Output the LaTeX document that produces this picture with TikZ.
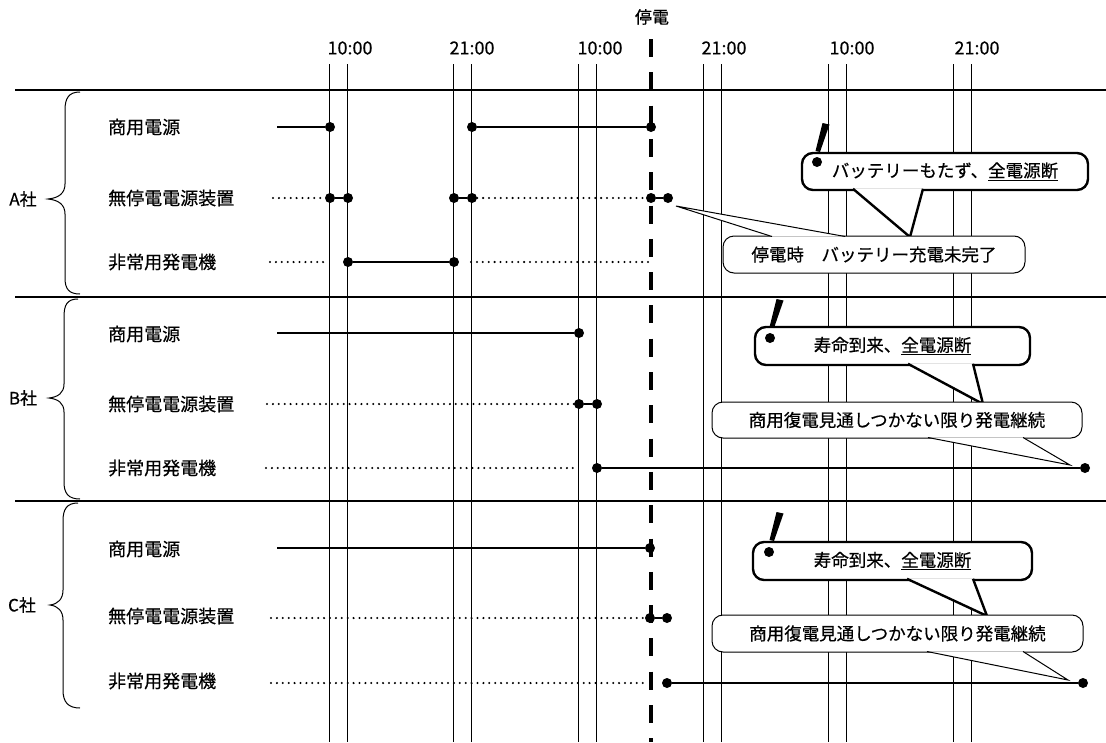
\documentclass[tikz,border=0pt]{standalone}
\usepackage{fontspec}
\setmainfont[FakeBold=0.5]{Noto Sans CJK JP}
\usetikzlibrary{calc}
\begin{document}
\begin{tikzpicture}[x=1pt,y=-1pt,
  gridline/.style={line width=0.9pt},
  sepline/.style={line width=1.1pt},
  cutline/.style={line width=4.2pt, dash pattern=on 18pt off 15.3pt},
  pwr/.style={line width=2.6pt},
  idle/.style={line width=2.3pt, line cap=round, dash pattern=on 0pt off 5.9pt},
  dot/.style={circle, fill=black, inner sep=0pt, minimum size=10pt},
  rowlbl/.style={font=\fontsize{18}{20}\selectfont, anchor=west, inner sep=0pt},
  comp/.style={font=\fontsize{17}{19}\selectfont, inner sep=0pt},
  tm/.style={font=\fontsize{18}{20}\selectfont, inner sep=0pt},
  brace/.style={line width=1pt},
  box/.style={draw, fill=white, rounded corners=11pt, line width=1pt, font=\fontsize{17.5}{20}\selectfont, inner sep=0pt},
  boxb/.style={box, line width=2.4pt},
  ptr/.style={draw, fill=white, line width=1pt, line join=miter},
  ptrb/.style={ptr, line width=2.4pt},
]
\useasboundingbox (0,0) rectangle (1106,742);
% grid lines
\foreach \k in {0,...,5} {
  \pgfmathsetmacro\xa{329+124.8*\k}
  \pgfmathsetmacro\xb{\xa+18}
  \draw[gridline] (\xa,64) -- (\xa,742);
  \draw[gridline] (\xb,64) -- (\xb,742);
}
% time labels
\node[tm] (t1) at (350,48) {10:00};
\node[tm] (t2) at (472,48) {21:00};
\node[tm] (t3) at (600,48) {10:00};
\node[tm] (t4) at (724,48) {21:00};
\node[tm] (t5) at (852,48) {10:00};
\node[tm] (t6) at (977,48) {21:00};
\node[tm, font=\fontsize{17}{19}\selectfont] (pf) at (652,17) {停電};
% separators
\coordinate (s1a) at (15,90);  \coordinate (s1b) at (1106,90);
\coordinate (s2a) at (15,297); \coordinate (s2b) at (1106,297);
\coordinate (s3a) at (15,501); \coordinate (s3b) at (1106,501);
\draw[sepline] (s1a) -- (s1b);
\draw[sepline] (s2a) -- (s2b);
\draw[sepline] (s3a) -- (s3b);
% outage line
\coordinate (cuttop) at (651,39); \coordinate (cutbot) at (651,742);
\draw[cutline] (cuttop) -- (cutbot);
% braces
\draw[brace] (80,92) .. controls (69,92) and (65,98) .. (65,110) -- (65,184)
  .. controls (65,193) and (59,198) .. (48,199) .. controls (59,200) and (65,205) .. (65,214)
  -- (65,278) .. controls (65,289) and (69,294) .. (80,294);
\draw[brace] (78,299) .. controls (67,299) and (64,305) .. (64,317) -- (64,384)
  .. controls (64,393) and (58,397) .. (49,398) .. controls (58,399) and (64,403) .. (64,412)
  -- (64,482) .. controls (64,493) and (68,499) .. (80,499);
\draw[brace] (78,503) .. controls (67,503) and (63,509) .. (63,521) -- (63,590)
  .. controls (63,599) and (58,604) .. (50,605) .. controls (58,606) and (63,611) .. (63,620)
  -- (63,690) .. controls (63,702) and (68,708) .. (80,708);
\node[comp] (ca) at (23,199) {A社};
\node[comp] (cb) at (23,398) {B社};
\node[comp] (cc) at (22,605) {C社};
% row labels
\node[rowlbl] (la1) at (108,127) {商用電源};
\node[rowlbl] (la2) at (108,198) {無停電電源装置};
\node[rowlbl] (la3) at (108,262) {非常用発電機};
\node[rowlbl] (lb1) at (108,334) {商用電源};
\node[rowlbl] (lb2) at (108,404) {無停電電源装置};
\node[rowlbl] (lb3) at (108,468) {非常用発電機};
\node[rowlbl] (lc1) at (108,549) {商用電源};
\node[rowlbl] (lc2) at (108,616) {無停電電源装置};
\node[rowlbl] (lc3) at (108,681) {非常用発電機};
% ---- A rows
\coordinate (A1s) at (277,127);
\node[dot] (A1a) at (330,127) {};
\node[dot] (A1b) at (472,127) {};
\node[dot] (A1c) at (651,127) {};
\draw[pwr] (A1s) -- (A1a);
\draw[pwr] (A1b) -- (A1c);
\coordinate (A2s) at (273,198);
\node[dot] (A2a) at (330,198) {};
\node[dot] (A2b) at (348,198) {};
\node[dot] (A2c) at (454,198) {};
\node[dot] (A2d) at (472,198) {};
\node[dot] (A2e) at (651,198) {};
\node[dot] (A2f) at (668,198) {};
\draw[idle] (A2s) -- (A2a);
\draw[pwr] (A2a) -- (A2b);
\draw[pwr] (A2c) -- (A2d);
\draw[idle] (A2d) -- (A2e);
\draw[pwr] (A2e) -- (A2f);
\coordinate (A3s) at (270,262); \coordinate (A3e) at (326,262);
\node[dot] (A3a) at (348,262) {};
\node[dot] (A3b) at (454,262) {};
\coordinate (A3f) at (471,262); \coordinate (A3g) at (648,262);
\draw[idle] (A3s) -- (A3e);
\draw[pwr] (A3a) -- (A3b);
\draw[idle] (A3f) -- (A3g);
% ---- B rows
\coordinate (B1s) at (277,333);
\node[dot] (B1a) at (579,333) {};
\draw[pwr] (B1s) -- (B1a);
\coordinate (B2s) at (267,404);
\node[dot] (B2a) at (579,404) {};
\node[dot] (B2b) at (597,404) {};
\draw[idle] (B2s) -- (B2a);
\draw[pwr] (B2a) -- (B2b);
\coordinate (B3s) at (266,468); \coordinate (B3e) at (576,468);
\node[dot] (B3a) at (597,468) {};
\node[dot] (B3b) at (1085,468) {};
\draw[idle] (B3s) -- (B3e);
\draw[pwr] (B3a) -- (B3b);
% ---- C rows
\coordinate (C1s) at (277,548);
\node[dot] (C1a) at (650,548) {};
\draw[pwr] (C1s) -- (C1a);
\coordinate (C2s) at (271,618);
\node[dot] (C2a) at (650,618) {};
\node[dot] (C2b) at (667,618) {};
\draw[idle] (C2s) -- (C2a);
\draw[pwr] (C2a) -- (C2b);
\coordinate (C3s) at (271,683); \coordinate (C3e) at (645,683);
\node[dot] (C3a) at (667,683) {};
\node[dot] (C3b) at (1083,683) {};
\draw[idle] (C3s) -- (C3e);
\draw[pwr] (C3a) -- (C3b);
% ---- A callouts
\node[boxb, minimum width=286pt, minimum height=37pt] (ka) at (945,171.5) {バッテリーもたず、\underline{全電源断}};
\coordinate (kat) at (910,237);
\path[ptrb] (853,188.8) -- (kat) -- (923,188.8);
\fill (822.5,123) -- (829.5,124.5) -- (820,152) -- (815.5,151) -- cycle;
\node[dot] (kax) at (817,162) {};
\node[box, minimum width=302pt, minimum height=37pt] (na) at (874,254.5) {停電時　バッテリー充電未完了};
\coordinate (nat) at (676,206);
\path[ptr] (772,236.5) -- (nat) -- (845,236.5);
% ---- B callouts
\node[boxb, minimum width=275pt, minimum height=38pt] (kb) at (892.5,346) {寿命到来、\underline{全電源断}};
\coordinate (kbt) at (983,404);
\path[ptrb] (908,363.8) -- (kbt) -- (973,363.8);
\fill (776.5,299) -- (783.5,300.5) -- (774,328) -- (769.5,327) -- cycle;
\node[dot] (kbx) at (770,338) {};
\node[box, minimum width=370pt, minimum height=36pt] (nb) at (897,420) {商用復電見通しつかない限り発電継続};
\coordinate (nbt) at (1070,465);
\path[ptr] (928,437.5) -- (nbt) -- (1023,437.5);
% ---- C callouts
\node[boxb, minimum width=279pt, minimum height=38pt] (kc) at (892.5,561) {寿命到来、\underline{全電源断}};
\coordinate (kct) at (987,616);
\path[ptrb] (907,578.8) -- (kct) -- (973,578.8);
\fill (776.5,512) -- (783.5,513.5) -- (774,541) -- (769.5,540) -- cycle;
\node[dot] (kcx) at (769,552) {};
\node[box, minimum width=371pt, minimum height=37pt] (nc) at (897.5,633.5) {商用復電見通しつかない限り発電継続};
\coordinate (nct) at (1068,680);
\path[ptr] (927,651.5) -- (nct) -- (1023,651.5);
\end{tikzpicture}
\end{document}
